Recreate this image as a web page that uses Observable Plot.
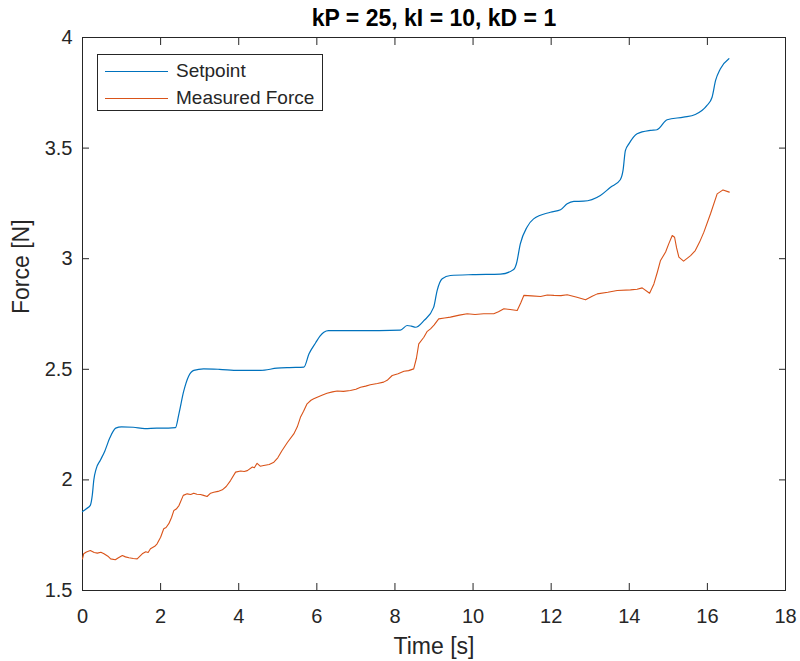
<!DOCTYPE html>
<html>
<head>
<meta charset="utf-8">
<script src="https://cdn.jsdelivr.net/npm/d3@7"></script>
<script src="https://cdn.jsdelivr.net/npm/@observablehq/plot@0.6"></script>
<style>
  html, body { margin: 0; padding: 0; background: #fff; }
  #wrap { position: relative; width: 800px; height: 661px; font-family: "Liberation Sans", Arial, sans-serif; }
  #legend { position: absolute; left: 97px; top: 54px; width: 226px; height: 57px; border: 1px solid #262626; background: #fff; box-sizing: border-box; }
  .item { position: absolute; left: 0; height: 20px; display: flex; align-items: center; font-size: 19px; color: #262626; white-space: nowrap; }
  .item .sw { display: inline-block; width: 63px; height: 0; border-top: 1.2px solid; margin-left: 7px; margin-right: 8px; }
</style>
</head>
<body>
<div id="wrap"></div>
<script>
const title = "kP = 25, kI = 10, kD = 1";
const xLabel = "Time [s]";
const yLabel = "Force [N]";
const seriesNames = ["Setpoint", "Measured Force"];
const seriesColors = ["#0072BD", "#D95319"];
const xTicks = [0, 2, 4, 6, 8, 10, 12, 14, 16, 18];
const yTicks = [1.5, 2, 2.5, 3, 3.5, 4];

// [time s, force N]
const setpoint = [
  [0,1.857],[0.1,1.87],[0.2,1.885],[0.25,1.93],[0.29,2.0],[0.35,2.05],[0.46,2.09],[0.57,2.13],[0.7,2.19],[0.85,2.234],
  [1.0,2.24],[1.3,2.238],[1.6,2.232],[1.9,2.234],[2.2,2.234],[2.38,2.236],[2.47,2.30],[2.59,2.40],[2.72,2.47],[2.85,2.495],
  [3.1,2.502],[3.5,2.50],[4.0,2.495],[4.56,2.495],[4.98,2.505],[5.3,2.508],[5.67,2.51],[5.80,2.57],[5.97,2.62],[6.08,2.65],
  [6.18,2.668],[6.3,2.675],[7.0,2.675],[7.6,2.675],[8.14,2.677],[8.31,2.698],[8.42,2.695],[8.53,2.69],[8.74,2.72],[8.99,2.78],
  [9.08,2.856],[9.21,2.909],[9.42,2.924],[10.0,2.928],[10.70,2.93],[11.04,2.951],[11.11,2.977],[11.21,3.067],[11.38,3.142],[11.55,3.18],
  [11.98,3.21],[12.24,3.221],[12.41,3.248],[12.58,3.259],[12.83,3.26],[13.26,3.286],[13.52,3.323],[13.77,3.357],[13.84,3.399],[13.90,3.489],
  [13.99,3.519],[14.20,3.565],[14.54,3.58],[14.71,3.583],[14.97,3.628],[15.39,3.64],[15.69,3.652],[15.99,3.693],[16.12,3.73],[16.21,3.806],
  [16.33,3.858],[16.55,3.904]
];
const measured = [
  [0,1.643],[0.03,1.666],[0.1,1.674],[0.2,1.681],[0.3,1.672],[0.38,1.669],[0.47,1.673],[0.55,1.666],[0.65,1.655],[0.72,1.643],[0.84,1.639],[0.92,1.648],
  [1.02,1.658],[1.1,1.652],[1.19,1.648],[1.3,1.645],[1.40,1.643],[1.53,1.666],[1.62,1.675],[1.68,1.672],[1.74,1.689],[1.85,1.70],[1.91,1.711],
  [2.0,1.741],[2.08,1.779],[2.14,1.785],[2.21,1.802],[2.28,1.83],[2.34,1.862],[2.40,1.868],[2.47,1.884],[2.58,1.93],[2.68,1.937],[2.77,1.934],[2.85,1.94],[2.93,1.935],[3.02,1.934],[3.10,1.93],[3.19,1.925],
  [3.28,1.94],[3.36,1.944],[3.47,1.948],[3.58,1.955],[3.68,1.97],[3.79,1.997],[3.92,2.035],[4.05,2.04],[4.14,2.038],[4.22,2.042],[4.35,2.058],[4.40,2.055],[4.47,2.075],[4.55,2.062],[4.64,2.065],[4.78,2.07],
  [4.90,2.08],[5.0,2.10],[5.11,2.133],[5.25,2.17],[5.41,2.208],[5.50,2.24],[5.58,2.283],[5.66,2.31],[5.75,2.344],[5.85,2.36],[5.92,2.367],[6.01,2.374],[6.13,2.383],[6.26,2.392],
  [6.40,2.398],[6.52,2.402],[6.68,2.40],[6.86,2.404],[7.00,2.41],[7.12,2.419],[7.25,2.424],[7.37,2.43],[7.55,2.436],[7.71,2.442],[7.80,2.45],[7.93,2.472],[8.08,2.48],[8.23,2.491],[8.35,2.494],[8.48,2.502],[8.55,2.55],[8.61,2.615],
  [8.74,2.645],[8.82,2.67],[8.91,2.683],[9.0,2.70],[9.12,2.728],[9.27,2.732],[9.42,2.736],[9.65,2.745],[9.85,2.751],[10.05,2.748],[10.27,2.751],[10.53,2.751],[10.65,2.76],[10.79,2.774],[10.95,2.77],[11.13,2.766],[11.22,2.80],
  [11.30,2.834],[11.50,2.832],[11.73,2.829],[11.90,2.836],[12.07,2.834],[12.25,2.833],[12.41,2.837],[12.66,2.826],[12.88,2.814],[13.05,2.83],[13.18,2.841],[13.45,2.848],[13.69,2.856],[14.03,2.859],[14.20,2.862],[14.33,2.868],
  [14.52,2.844],[14.63,2.886],[14.72,2.94],[14.80,2.992],[14.93,3.03],[15.01,3.067],[15.10,3.105],[15.16,3.097],[15.21,3.05],[15.27,3.007],[15.39,2.989],[15.57,3.014],
  [15.69,3.037],[15.80,3.075],[15.91,3.12],[16.08,3.203],[16.25,3.293],[16.40,3.311],[16.56,3.301]
];

const ink = "#262626";
const font = "Liberation Sans, Arial, sans-serif";
const blank = () => "";
const fmt = d => String(d);

const chart = Plot.plot({
  width: 800,
  height: 661,
  marginLeft: 82,
  marginRight: 15,
  marginTop: 37,
  marginBottom: 71,
  style: { fontFamily: font, color: ink, background: "#fff" },
  x: { domain: [0, 18] },
  y: { domain: [1.5, 4] },
  marks: [
    Plot.frame({ stroke: ink, strokeWidth: 1 }),
    Plot.axisX(xTicks, { anchor: "bottom", tickSize: -7, tickPadding: 25, fontSize: 20, tickFormat: fmt, label: null, stroke: ink, fill: ink }),
    Plot.axisX(xTicks, { anchor: "top", tickSize: -7, tickFormat: blank, label: null, stroke: ink }),
    Plot.axisY(yTicks, { anchor: "left", tickSize: -7, tickPadding: 17, fontSize: 20, tickFormat: fmt, label: null, stroke: ink, fill: ink }),
    Plot.axisY(yTicks, { anchor: "right", tickSize: -7, tickFormat: blank, label: null, stroke: ink }),
    Plot.line(setpoint, { x: d => d[0], y: d => d[1], stroke: seriesColors[0], strokeWidth: 1.2, curve: "monotone-x" }),
    Plot.line(measured, { x: d => d[0], y: d => d[1], stroke: seriesColors[1], strokeWidth: 1.1 }),
    Plot.text([title], { frameAnchor: "top", lineAnchor: "middle", dy: -19, fontSize: 23, fontWeight: "bold", fill: "#000" }),
    Plot.text([xLabel], { frameAnchor: "bottom", lineAnchor: "middle", dy: 56, fontSize: 23, fill: ink }),
    Plot.text([yLabel], { frameAnchor: "left", lineAnchor: "middle", dx: -61, rotate: -90, fontSize: 23, fill: ink })
  ]
});

const wrap = document.getElementById("wrap");
wrap.appendChild(chart);

const legend = document.createElement("div");
legend.id = "legend";
seriesNames.forEach((name, i) => {
  const it = document.createElement("div");
  it.className = "item";
  it.style.top = (6 + i * 27) + "px";
  const sw = document.createElement("span");
  sw.className = "sw";
  sw.style.borderColor = seriesColors[i];
  it.appendChild(sw);
  it.appendChild(document.createTextNode(name));
  legend.appendChild(it);
});
wrap.appendChild(legend);
</script>
</body>
</html>
